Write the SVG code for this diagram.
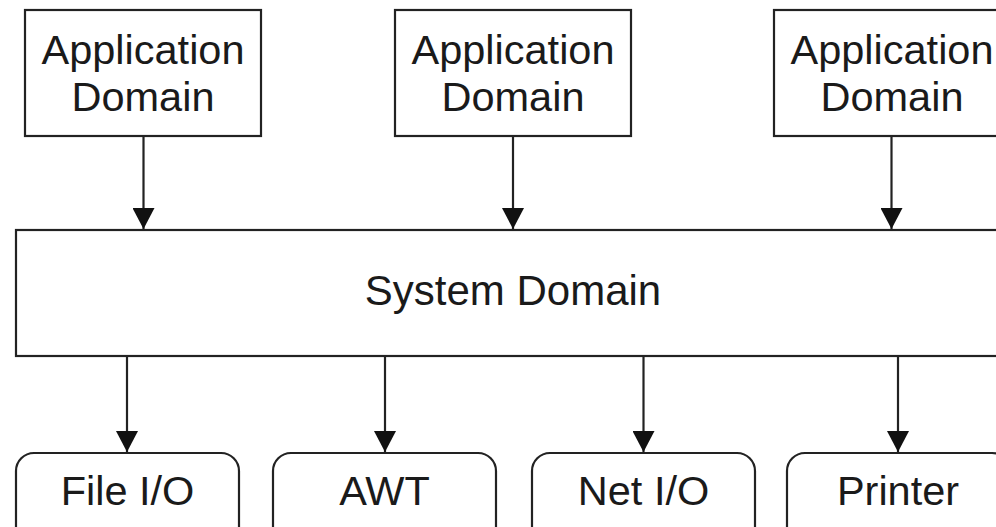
<svg xmlns="http://www.w3.org/2000/svg" width="996" height="527" viewBox="0 0 996 527">
<style>
.box{fill:#fff;stroke:#222;stroke-width:2.2}
.t{font-family:"Liberation Sans",Arial,sans-serif;font-size:41.5px;fill:#1a1a1a;text-anchor:middle}
.c{stroke:#222;stroke-width:2.2;fill:none;marker-end:url(#ah)}
</style>
<defs>
<marker id="ah" markerUnits="userSpaceOnUse" markerWidth="24" markerHeight="22" refX="21" refY="11" orient="auto">
<path d="M0,0 L21,11 L0,22 Z" fill="#111"/>
</marker>
</defs>
<rect width="996" height="527" fill="#fff"/>
<g id="app1"><rect class="box" x="25" y="10" width="236" height="126"/><text class="t" x="143" y="64">Application</text><text class="t" x="143" y="111">Domain</text></g>
<g id="app2"><rect class="box" x="395" y="10" width="236" height="126"/><text class="t" x="513" y="64">Application</text><text class="t" x="513" y="111">Domain</text></g>
<g id="app3"><rect class="box" x="774" y="10" width="236" height="126"/><text class="t" x="892" y="64">Application</text><text class="t" x="892" y="111">Domain</text></g>
<g id="system"><rect class="box" x="16" y="230" width="1000" height="126"/><text class="t" x="513" y="305" style="font-size:42px">System Domain</text></g>
<g id="fileio"><rect class="box" x="16" y="453" width="223" height="100" rx="18"/><text class="t" x="127.5" y="505">File I/O</text></g>
<g id="awt"><rect class="box" x="273" y="453" width="223" height="100" rx="18"/><text class="t" x="384.5" y="505">AWT</text></g>
<g id="netio"><rect class="box" x="532" y="453" width="223" height="100" rx="18"/><text class="t" x="643.5" y="505">Net I/O</text></g>
<g id="printer"><rect class="box" x="787" y="453" width="223" height="100" rx="18"/><text class="t" x="898" y="505">Printer</text></g>
<g id="connectors">
<path class="c" d="M143.5,136 V229"/>
<path class="c" d="M513,136 V229"/>
<path class="c" d="M891.5,136 V229"/>
<path class="c" d="M127,356 V452"/>
<path class="c" d="M385,356 V452"/>
<path class="c" d="M643.5,356 V452"/>
<path class="c" d="M898,356 V452"/>
</g>
</svg>
